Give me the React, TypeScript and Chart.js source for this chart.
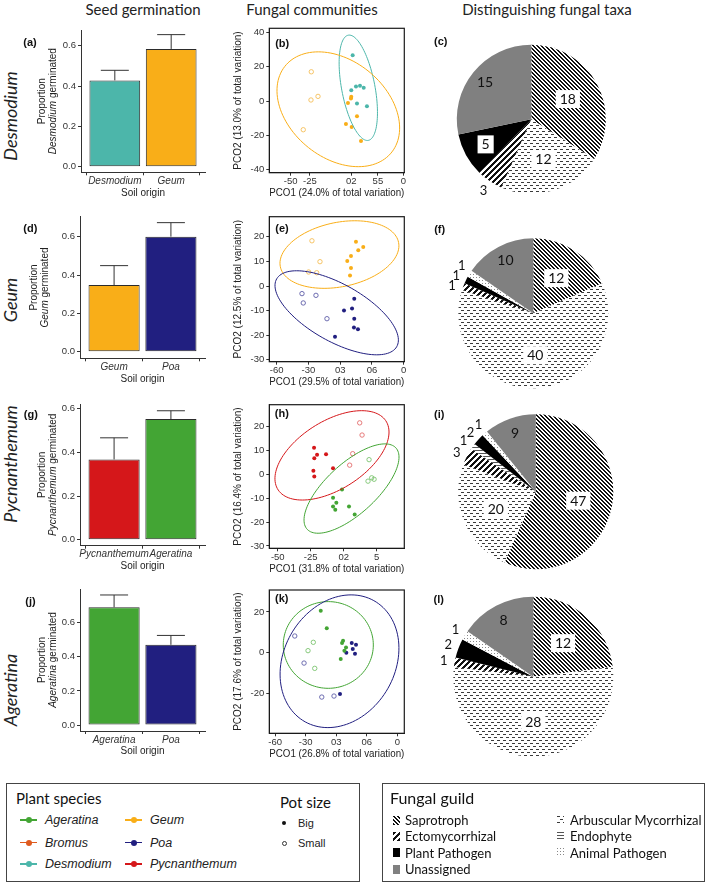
import React, { useEffect, useRef } from 'react';
import { Chart, registerables } from 'chart.js';

Chart.register(...registerables);

const ARIAL = '"Liberation Sans", Arial, Helvetica, sans-serif';
const CALIBRI = 'Lato, "Open Sans", sans-serif';

// ---------------- colours ----------------
const COL: Record<string, string> = {
  Ageratina: '#43A534',
  Bromus: '#DF5A1E',
  Desmodium: '#4CB6AA',
  Geum: '#F9AE18',
  Poa: '#211F80',
  Pycnanthemum: '#D5171A',
};
const COL_OPEN: Record<string, string> = {
  Ageratina: '#7CC46F',
  Desmodium: '#7ACCC2',
  Geum: '#F5BE58',
  Poa: '#5F5DA8',
  Pycnanthemum: '#E36D6D',
};

// ---------------- seed germination (proportion germinated, mean and SE) ----------------
const soilOriginA = ['Desmodium', 'Geum'];
const germinatedA = [0.428, 0.584];
const seA = [0.05, 0.071];

const soilOriginD = ['Geum', 'Poa'];
const germinatedD = [0.348, 0.6];
const seD = [0.101, 0.073];

const soilOriginG = ['Pycnanthemum', 'Ageratina'];
const germinatedG = [0.368, 0.553];
const seG = [0.099, 0.038];

const soilOriginJ = ['Ageratina', 'Poa'];
const germinatedJ = [0.69, 0.47];
const seJ = [0.072, 0.055];

const proportionTicks = [0, 0.2, 0.4, 0.6];

// ---------------- fungal communities (PCO scores) ----------------
type XY = [number, number];
const bDesmodiumBig: XY[] = [[30.3, 26.6], [28.5, 6.2], [34.6, 8.5], [39.8, 8.9], [44.6, 7.7], [35.9, -1.4], [48.8, -3.1]];
const bGeumBig: XY[] = [[24.2, -1.2], [28.5, 2.5], [28.1, 1.4], [35.9, -8.9], [21.6, -13.4], [29, -15.1], [41.1, -23.3]];
const bGeumSmall: XY[] = [[-23.3, 17], [-23.7, 0.6], [-14.6, 2.7], [-33.7, -16.7]];
const bEllipseDesmodium = [37.6, 7.7, -12.95, 30.6, -21.2, -1.8];
const bEllipseGeum = [11.7, -4.8, 25.9, -33.4, 75.1, 0];
const bPco1Ticks = [-50, -25, 28.5, 63, 96];
const bPco1Labels = ['-50', '-25', '02', '55', '0'];
const bPco2Ticks = [-40, -20, 0, 20, 40];

const eGeumBig: XY[] = [[14.9, 18], [21.8, 15.9], [17.1, 14.5], [10.2, 12.2], [6.7, 10.2], [10.2, 7.3], [9.3, 4.3]];
const eGeumSmall: XY[] = [[-26.7, 18.4], [-19.1, 9.9], [-29.8, 5.7], [-22.2, 5.4]];
const ePoaBig: XY[] = [[13.3, -5.2], [3.6, -10], [11.2, -9.2], [13.3, -13.3], [13, -16.9], [16.8, -17.6], [-4.9, -20.6]];
const ePoaSmall: XY[] = [[-36.1, -3.1], [-34.9, -6.9], [-22.9, -3.8], [-12.5, -13.3]];
const eEllipseGeum = [-0.7, 12.8, 14.5, 13.75, 54.3, 0];
const eEllipsePoa = [-3.3, -10.9, -37.8, 17.1, 44.4, 0];
const ePco1Ticks = [-60, -30, 0, 30, 60];
const ePco1Labels = ['-60', '-30', '03', '06', '0'];
const ePco2Ticks = [-30, -20, -10, 0, 10, 20];

const hPycBig: XY[] = [[-22.5, 11.1], [-20.2, 8.2], [-22.3, 6.7], [-13.4, 8.4], [-23, 1.5], [-22.3, -1], [-8.1, 2.5]];
const hPycSmall: XY[] = [[12.1, 21.5], [13.9, 16.4], [6.8, 8.6], [4.5, 3.8]];
const hAgeBig: XY[] = [[-1.3, -6.4], [-8.1, -9.8], [-5.6, -11.9], [-8.1, -13.5], [-6.4, -14.9], [4, -13.5], [8.3, -16.9]];
const hAgeSmall: XY[] = [[19.2, 6.1], [18.4, -2.9], [21.2, -1.5], [23, -2.1]];
const hEllipsePyc = [-8.9, 7.9, 22.5, 18.7, 36.9, 0];
const hEllipseAge = [5.9, -6.0, 25.3, 18.7, 25.6, 0];
const hPco1Ticks = [-50, -25, 0, 25];
const hPco1Labels = ['-50', '-25', '02', '5'];
const hPco2Ticks = [-30, -20, -10, 0, 10, 20];

const kAgeBig: XY[] = [[-15.2, 20.6], [-9.3, 12], [6.7, 5.9], [5.7, 4.8], [9.6, 2.5], [8, 1], [4.4, -3.1]];
const kAgeSmall: XY[] = [[-22.5, 5.1], [-27.7, 1], [-21.1, -7.7]];
const kPoaBig: XY[] = [[15.2, 4.8], [19.4, 3.9], [16.2, 1.8], [9.9, 0], [18.4, -0.5], [3.7, -20.3]];
const kPoaSmall: XY[] = [[-40.7, 8.2], [-31.6, -5.1], [-14.2, -21.8], [-2.2, -21.3]];
const kEllipseAge = [-7.8, 3.8, 0, 21.3, 44.2, 0];
const kEllipsePoa = [3.2, -4.2, 11.4, 32.6, 57.2, 0];
const kPco1Ticks = [-60, -30, 0, 30, 60];
const kPco1Labels = ['-60', '-30', '03', '06', '0'];
const kPco2Ticks = [-20, 0, 20];

// ---------------- distinguishing fungal taxa (counts per guild) ----------------
const guilds = ['Saprotroph', 'Arbuscular Mycorrhizal', 'Ectomycorrhizal', 'Endophyte', 'Plant Pathogen', 'Animal Pathogen', 'Unassigned'];
const taxaC = [18, 12, 3, 0, 5, 0, 15];
const taxaF = [12, 40, 1, 0, 1, 1, 10];
const taxaI = [47, 20, 3, 1, 2, 1, 9];
const taxaL = [12, 28, 1, 0, 2, 1, 8];

// legends
const legendSpecies = ['Ageratina', 'Bromus', 'Desmodium', 'Geum', 'Poa', 'Pycnanthemum'];
const legendGuildsCol1 = ['Saprotroph', 'Ectomycorrhizal', 'Plant Pathogen', 'Unassigned'];
const legendGuildsCol2 = ['Arbuscular Mycorrhizal', 'Endophyte', 'Animal Pathogen'];

// ---------------- helpers ----------------
function makeTile(w: number, h: number, on: (x: number, y: number) => boolean, fg: string, bg: string): any {
  const c = document.createElement('canvas');
  c.width = w;
  c.height = h;
  const ctx = c.getContext('2d')!;
  ctx.fillStyle = bg;
  ctx.fillRect(0, 0, w, h);
  ctx.fillStyle = fg;
  for (let y = 0; y < h; y++) for (let x = 0; x < w; x++) if (on(x, y)) ctx.fillRect(x, y, 1, 1);
  return ctx.createPattern(c, 'repeat');
}

function guildFill(g: string): any {
  switch (g) {
    case 'Saprotroph':
      return makeTile(4, 4, (x, y) => (x - y + 8) % 4 < 2, '#111', '#fff');
    case 'Ectomycorrhizal':
      return makeTile(6, 6, (x, y) => (x + y) % 6 < 3, '#111', '#fff');
    case 'Arbuscular Mycorrhizal':
      return makeTile(6, 6, (x, y) => (y === 0 && x < 3) || (y === 3 && x >= 3), '#3a3a3a', '#fff');
    case 'Endophyte':
      return makeTile(3, 3, (x, y) => y === 0, '#555', '#fff');
    case 'Plant Pathogen':
      return '#000';
    case 'Animal Pathogen':
      return makeTile(3, 3, (x, y) => x === 0 && y === 0, '#888', '#fff');
    default:
      return '#808080';
  }
}

function ChartCanvas(props: { left: number; top: number; width: number; height: number; make: () => any }) {
  const ref = useRef<HTMLCanvasElement | null>(null);
  useEffect(() => {
    if (!ref.current) return;
    const ch = new Chart(ref.current, props.make());
    return () => ch.destroy();
  }, []);
  return (
    <canvas
      ref={ref}
      width={props.width}
      height={props.height}
      style={{ position: 'absolute', left: props.left, top: props.top, width: props.width, height: props.height }}
    />
  );
}

function T(props: { x: number; y: number; children: any; style?: any; anchor?: string; rotate?: boolean }) {
  const tx = props.anchor === 'left' ? '0' : '-50%';
  const rot = props.rotate ? ' rotate(-90deg)' : '';
  return (
    <div
      style={{
        position: 'absolute',
        left: props.x,
        top: props.y,
        transform: `translate(${tx}, -50%)${rot}`,
        whiteSpace: 'nowrap',
        lineHeight: 1,
        ...props.style,
      }}
    >
      {props.children}
    </div>
  );
}

const tickFont = { family: ARIAL, size: 9.5 };
const titleFont = { family: ARIAL, size: 10 };

// ---------------- bar panels ----------------
interface BarLayout { l: number; r: number; t: number; b: number; yMin: number; yMax: number; titleX: number[] }

function drawRotatedSegments(ctx: any, cx: number, cy: number, segs: { t: string; italic: boolean }[]) {
  ctx.save();
  ctx.translate(cx, cy);
  ctx.rotate(-Math.PI / 2);
  ctx.textBaseline = 'middle';
  ctx.textAlign = 'left';
  ctx.fillStyle = '#222';
  let total = 0;
  const widths = segs.map((s) => {
    ctx.font = `${s.italic ? 'italic ' : ''}10px ${ARIAL}`;
    const w = ctx.measureText(s.t).width;
    total += w;
    return w;
  });
  let x = -total / 2;
  segs.forEach((s, i) => {
    ctx.font = `${s.italic ? 'italic ' : ''}10px ${ARIAL}`;
    ctx.fillText(s.t, x, 0);
    x += widths[i];
  });
  ctx.restore();
}

function BarPanel(props: { cats: string[]; vals: number[]; se: number[]; plant: string; L: BarLayout }) {
  const { cats, vals, se, plant, L } = props;
  const CL = 26;
  const CT = Math.floor(L.t - 8);
  const CW = Math.ceil(L.r + 10 - CL);
  const CH = Math.ceil(L.b + 26 - CT);
  const make = () => ({
    type: 'bar',
    data: {
      datasets: [
        {
          data: vals.map((v, i) => ({ x: i + 1, y: v })),
          backgroundColor: cats.map((c) => COL[c]),
          borderColor: '#2b2b2b',
          borderWidth: 1,
          borderSkipped: false,
          barPercentage: 0.9,
          categoryPercentage: 1,
        },
      ],
    },
    options: {
      responsive: false,
      animation: false,
      layout: { padding: { top: L.t - CT, right: CL + CW - L.r, left: 0, bottom: 0 } },
      plugins: { legend: { display: false }, tooltip: { enabled: false } },
      scales: {
        x: {
          type: 'linear',
          min: 0.4,
          max: 2.6,
          offset: false,
          afterFit: (s: any) => { s.height = CT + CH - L.b; },
          afterBuildTicks: (s: any) => { s.ticks = cats.map((_, i) => ({ value: i + 1 })); },
          ticks: {
            autoSkip: false, maxRotation: 0, minRotation: 0, padding: 0, color: '#333',
            font: { family: ARIAL, size: 10, style: 'italic' },
            callback: (_v: any, i: number) => cats[i],
          },
          grid: { drawOnChartArea: false, drawTicks: true, tickLength: 3, color: '#333' },
          border: { display: true, color: '#333', width: 1 },
          title: { display: true, text: 'Soil origin', color: '#222', font: titleFont, padding: { top: 0, bottom: 0 } },
        },
        y: {
          min: L.yMin,
          max: L.yMax,
          afterFit: (s: any) => { s.width = L.l - CL; },
          afterBuildTicks: (s: any) => { s.ticks = proportionTicks.map((v) => ({ value: v })); },
          ticks: { padding: 2, color: '#333', font: tickFont, callback: (v: any) => Number(v).toFixed(1) },
          grid: { drawOnChartArea: false, drawTicks: true, tickLength: 3, color: '#333' },
          border: { display: true, color: '#333', width: 1 },
        },
      },
    },
    plugins: [
      {
        id: 'errorBars',
        afterDatasetsDraw(chart: any) {
          const ctx = chart.ctx;
          const y = chart.scales.y;
          const meta = chart.getDatasetMeta(0);
          ctx.save();
          ctx.strokeStyle = '#333';
          ctx.lineWidth = 1;
          meta.data.forEach((bar: any, i: number) => {
            const y0 = y.getPixelForValue(vals[i]);
            const y1 = y.getPixelForValue(vals[i] + se[i]);
            ctx.beginPath();
            ctx.moveTo(bar.x, y0);
            ctx.lineTo(bar.x, y1);
            ctx.moveTo(bar.x - 14, y1);
            ctx.lineTo(bar.x + 14, y1);
            ctx.stroke();
          });
          ctx.restore();
        },
      },
      {
        id: 'yTitle',
        afterDraw(chart: any) {
          const a = chart.chartArea;
          const yc = (a.top + a.bottom) / 2;
          drawRotatedSegments(chart.ctx, L.titleX[0] - CL, yc, [{ t: 'Proportion', italic: false }]);
          drawRotatedSegments(chart.ctx, L.titleX[1] - CL, yc, [
            { t: plant, italic: true },
            { t: ' germinated', italic: false },
          ]);
        },
      },
    ],
  });
  return <ChartCanvas left={CL} top={CT} width={CW} height={CH} make={make} />;
}

// ---------------- scatter panels ----------------
interface Group { pts: XY[]; species: string; open: boolean }
interface ScatterSpec {
  groups: Group[];
  ellipses: { e: number[]; species: string }[];
  xMin: number; xMax: number; xTicks: number[]; xLabels: string[];
  yMin: number; yMax: number; yTicks: number[];
  xTitle: string; yTitle: string;
  l: number; r: number; t: number; b: number;
}

function ScatterPanel(props: { s: ScatterSpec }) {
  const s = props.s;
  const CL = 226;
  const CT = Math.floor(s.t - 8);
  const CW = Math.ceil(s.r + 8 - CL);
  const CH = Math.ceil(s.b + 26 - CT);
  const make = () => ({
    type: 'scatter',
    data: {
      datasets: s.groups.map((g) => ({
        data: g.pts.map(([x, y]) => ({ x, y })),
        pointRadius: g.open ? 2.2 : 2,
        pointBackgroundColor: g.open ? 'rgba(255,255,255,0)' : COL[g.species],
        pointBorderColor: g.open ? COL_OPEN[g.species] : COL[g.species],
        pointBorderWidth: g.open ? 0.9 : 0,
        showLine: false,
      })),
    },
    options: {
      responsive: false,
      animation: false,
      layout: { padding: { top: s.t - CT, right: CL + CW - s.r, left: 0, bottom: 0 } },
      plugins: { legend: { display: false }, tooltip: { enabled: false } },
      scales: {
        x: {
          type: 'linear',
          min: s.xMin,
          max: s.xMax,
          afterFit: (sc: any) => { sc.height = CT + CH - s.b; },
          afterBuildTicks: (sc: any) => { sc.ticks = s.xTicks.map((v) => ({ value: v })); },
          ticks: {
            autoSkip: false, maxRotation: 0, minRotation: 0, padding: 0, color: '#333', font: tickFont,
            callback: (_v: any, i: number) => s.xLabels[i],
          },
          grid: { drawOnChartArea: false, drawTicks: true, tickLength: 3, color: '#333' },
          border: { display: true, color: '#1a1a1a', width: 1 },
          title: { display: true, text: s.xTitle, color: '#222', font: titleFont, padding: { top: 0, bottom: 0 } },
        },
        y: {
          type: 'linear',
          min: s.yMin,
          max: s.yMax,
          afterFit: (sc: any) => { sc.width = s.l - CL; },
          afterBuildTicks: (sc: any) => { sc.ticks = s.yTicks.map((v) => ({ value: v })); },
          ticks: { padding: 2, color: '#333', font: tickFont, callback: (v: any) => String(v) },
          grid: { drawOnChartArea: false, drawTicks: true, tickLength: 3, color: '#333' },
          border: { display: true, color: '#1a1a1a', width: 1 },
          title: { display: true, text: s.yTitle, color: '#222', font: titleFont, padding: { top: 6, bottom: 0 } },
        },
      },
    },
    plugins: [
      {
        id: 'ellipses',
        afterDatasetsDraw(chart: any) {
          const { ctx, chartArea: a } = chart;
          const x = chart.scales.x;
          const y = chart.scales.y;
          ctx.save();
          ctx.beginPath();
          ctx.rect(a.left, a.top, a.right - a.left, a.bottom - a.top);
          ctx.clip();
          ctx.lineWidth = 1;
          for (const el of s.ellipses) {
            const [cx, cy, ux, uy, vx, vy] = el.e;
            ctx.strokeStyle = COL[el.species];
            ctx.beginPath();
            for (let k = 0; k <= 120; k++) {
              const t = (k / 120) * Math.PI * 2;
              const px = x.getPixelForValue(cx + ux * Math.cos(t) + vx * Math.sin(t));
              const py = y.getPixelForValue(cy + uy * Math.cos(t) + vy * Math.sin(t));
              if (k === 0) ctx.moveTo(px, py);
              else ctx.lineTo(px, py);
            }
            ctx.closePath();
            ctx.stroke();
          }
          ctx.restore();
        },
      },
      {
        id: 'box',
        afterDraw(chart: any) {
          const { ctx, chartArea: a } = chart;
          ctx.save();
          ctx.strokeStyle = '#1a1a1a';
          ctx.lineWidth = 1.2;
          ctx.strokeRect(a.left, a.top, a.right - a.left, a.bottom - a.top);
          ctx.restore();
        },
      },
    ],
  });
  return <ChartCanvas left={CL} top={CT} width={CW} height={CH} make={make} />;
}

// ---------------- pie panels ----------------
function PiePanel(props: { vals: number[]; cx: number; cy: number; r: number }) {
  const { vals, cx, cy, r } = props;
  const CL = 425;
  const CW = 280;
  const CT = Math.floor(cy - r - 30);
  const CH = Math.ceil(2 * r + 60);
  const make = () => ({
    type: 'pie',
    data: {
      labels: guilds,
      datasets: [{ data: vals, backgroundColor: guilds.map((g) => guildFill(g)), borderWidth: 0 }],
    },
    options: {
      responsive: false,
      animation: false,
      layout: {
        padding: {
          left: cx - r - CL,
          right: CL + CW - (cx + r),
          top: cy - r - CT,
          bottom: CT + CH - (cy + r),
        },
      },
      plugins: { legend: { display: false }, tooltip: { enabled: false } },
    },
    plugins: [
      {
        id: 'pieLabels',
        afterDraw(chart: any) {
          const ctx = chart.ctx;
          const meta = chart.getDatasetMeta(0);
          const total = vals.reduce((a, b) => a + b, 0);
          const items: any[] = [];
          meta.data.forEach((arc: any, i: number) => {
            const v = vals[i];
            if (!v) return;
            const p = arc.getProps(['x', 'y', 'startAngle', 'endAngle', 'outerRadius'], true);
            const mid = (p.startAngle + p.endAngle) / 2;
            const share = v / total;
            const g = guilds[i];
            let rr: number;
            let boxed = false;
            let size = 14;
            let out = false;
            if (share < 0.07) { rr = p.outerRadius + 11; size = 13; out = true; }
            else if (g === 'Unassigned') rr = p.outerRadius * 0.8;
            else if (g === 'Plant Pathogen') { rr = p.outerRadius * 0.7; boxed = true; }
            else { rr = p.outerRadius * 0.56; boxed = true; }
            items.push({ v, x: p.x, y: p.y, ang: mid, rr, boxed, size, out });
          });
          // spread clustered outside labels so they do not overlap
          const outs = items.filter((it) => it.out);
          if (outs.length > 1) {
            const before = outs.reduce((s, it) => s + it.ang, 0) / outs.length;
            for (let k = 1; k < outs.length; k++) {
              const minA = 11 / outs[k].rr;
              if (outs[k].ang - outs[k - 1].ang < minA) outs[k].ang = outs[k - 1].ang + minA;
            }
            const after = outs.reduce((s, it) => s + it.ang, 0) / outs.length;
            const contiguous = outs[outs.length - 1].ang - outs[0].ang < 1;
            if (contiguous) outs.forEach((it) => { it.ang -= after - before; });
          }
          ctx.save();
          for (const it of items) {
            const tx = it.x + Math.cos(it.ang) * it.rr;
            const ty = it.y + Math.sin(it.ang) * it.rr;
            ctx.font = `${it.size}px ${CALIBRI}`;
            const w = ctx.measureText(String(it.v)).width;
            if (it.boxed) {
              ctx.fillStyle = '#fff';
              ctx.fillRect(tx - w / 2 - 4, ty - 9, w + 8, 18);
            }
            ctx.fillStyle = '#111';
            ctx.textAlign = 'center';
            ctx.textBaseline = 'middle';
            ctx.fillText(String(it.v), tx, ty + 0.5);
          }
          ctx.restore();
        },
      },
    ],
  });
  return <ChartCanvas left={CL} top={CT} width={CW} height={CH} make={make} />;
}

function GuildIcon(props: { x: number; y: number; guild: string }) {
  const ref = useRef<HTMLCanvasElement | null>(null);
  useEffect(() => {
    const c = ref.current;
    if (!c) return;
    const ctx = c.getContext('2d')!;
    ctx.clearRect(0, 0, c.width, c.height);
    ctx.fillStyle = guildFill(props.guild);
    ctx.fillRect(0, 0, c.width, c.height);
  }, []);
  return <canvas ref={ref} width={7} height={9} style={{ position: 'absolute', left: props.x, top: props.y - 4.5, width: 7, height: 9 }} />;
}

function SpeciesKey(props: { x: number; y: number; name: string }) {
  const { x, y, name } = props;
  return (
    <>
      <div style={{ position: 'absolute', left: x, top: y - 0.75, width: 17, height: 1.5, background: COL[name] }} />
      <div style={{ position: 'absolute', left: x + 5.5, top: y - 3, width: 6, height: 6, borderRadius: 3, background: COL[name] }} />
      <T x={x + 25} y={y} anchor="left" style={{ fontStyle: 'italic', fontSize: 12.5, color: '#222', fontFamily: ARIAL }}>
        {name}
      </T>
    </>
  );
}

// ---------------- layout ----------------
const barA: BarLayout = { l: 81, r: 205, t: 30, b: 172.3, yMin: -0.028, yMax: 0.678, titleX: [42, 53] };
const barD: BarLayout = { l: 80, r: 205, t: 216.7, b: 358.3, yMin: -0.034, yMax: 0.704, titleX: [34, 45] };
const barG: BarLayout = { l: 80, r: 205, t: 404, b: 545.7, yMin: -0.0275, yMax: 0.622, titleX: [42, 53] };
const barJ: BarLayout = { l: 80, r: 205, t: 589, b: 731, yMin: -0.035, yMax: 0.797, titleX: [42, 53] };

const scatB: ScatterSpec = {
  groups: [
    { pts: bDesmodiumBig, species: 'Desmodium', open: false },
    { pts: bGeumBig, species: 'Geum', open: false },
    { pts: bGeumSmall, species: 'Geum', open: true },
  ],
  ellipses: [{ e: bEllipseDesmodium, species: 'Desmodium' }, { e: bEllipseGeum, species: 'Geum' }],
  xMin: -77.7, xMax: 97.2, xTicks: bPco1Ticks, xLabels: bPco1Labels,
  yMin: -41.7, yMax: 42.3, yTicks: bPco2Ticks,
  xTitle: 'PCO1 (24.0% of total variation)', yTitle: 'PCO2 (13.0% of total variation)',
  l: 269.3, r: 404.3, t: 28.3, b: 172.7,
};
const scatE: ScatterSpec = {
  groups: [
    { pts: eGeumBig, species: 'Geum', open: false },
    { pts: eGeumSmall, species: 'Geum', open: true },
    { pts: ePoaBig, species: 'Poa', open: false },
    { pts: ePoaSmall, species: 'Poa', open: true },
  ],
  ellipses: [{ e: eEllipseGeum, species: 'Geum' }, { e: eEllipsePoa, species: 'Poa' }],
  xMin: -67, xMax: 60.6, xTicks: ePco1Ticks, xLabels: ePco1Labels,
  yMin: -30.8, yMax: 28.2, yTicks: ePco2Ticks,
  xTitle: 'PCO1 (29.5% of total variation)', yTitle: 'PCO2 (12.5% of total variation)',
  l: 269.3, r: 404.3, t: 216.7, b: 361.7,
};
const scatH: ScatterSpec = {
  groups: [
    { pts: hPycBig, species: 'Pycnanthemum', open: false },
    { pts: hPycSmall, species: 'Pycnanthemum', open: true },
    { pts: hAgeBig, species: 'Ageratina', open: false },
    { pts: hAgeSmall, species: 'Ageratina', open: true },
  ],
  ellipses: [{ e: hEllipsePyc, species: 'Pycnanthemum' }, { e: hEllipseAge, species: 'Ageratina' }],
  xMin: -56.4, xMax: 45.9, xTicks: hPco1Ticks, xLabels: hPco1Labels,
  yMin: -31, yMax: 29.1, yTicks: hPco2Ticks,
  xTitle: 'PCO1 (31.8% of total variation)', yTitle: 'PCO2 (16.4% of total variation)',
  l: 269.3, r: 404.3, t: 404.7, b: 548.3,
};
const scatK: ScatterSpec = {
  groups: [
    { pts: kAgeBig, species: 'Ageratina', open: false },
    { pts: kAgeSmall, species: 'Ageratina', open: true },
    { pts: kPoaBig, species: 'Poa', open: false },
    { pts: kPoaSmall, species: 'Poa', open: true },
  ],
  ellipses: [{ e: kEllipseAge, species: 'Ageratina' }, { e: kEllipsePoa, species: 'Poa' }],
  xMin: -65.7, xMax: 66.8, xTicks: kPco1Ticks, xLabels: kPco1Labels,
  yMin: -39.6, yMax: 30.8, yTicks: kPco2Ticks,
  xTitle: 'PCO1 (26.8% of total variation)', yTitle: 'PCO2 (17.6% of total variation)',
  l: 269.3, r: 404.3, t: 590, b: 733.3,
};

const headStyle = { fontFamily: CALIBRI, fontSize: 15, color: '#222' };
const rowStyle = { fontFamily: CALIBRI, fontSize: 18, fontStyle: 'italic', color: '#222' };
const tagStyle = { fontFamily: ARIAL, fontSize: 11, fontWeight: 'bold', color: '#111' };

export default function App() {
  return (
    <div style={{ position: 'absolute', left: 0, top: 0, width: 709, height: 885, background: '#fff', overflow: 'hidden', fontFamily: ARIAL }}>
      <T x={143} y={9} style={headStyle}>Seed germination</T>
      <T x={312} y={9} style={headStyle}>Fungal communities</T>
      <T x={547} y={9} style={headStyle}>Distinguishing fungal taxa</T>

      <T x={10} y={116} rotate style={rowStyle}>Desmodium</T>
      <T x={10} y={300} rotate style={rowStyle}>Geum</T>
      <T x={10} y={464} rotate style={rowStyle}>Pycnanthemum</T>
      <T x={10} y={690} rotate style={rowStyle}>Ageratina</T>

      <BarPanel cats={soilOriginA} vals={germinatedA} se={seA} plant="Desmodium" L={barA} />
      <BarPanel cats={soilOriginD} vals={germinatedD} se={seD} plant="Geum" L={barD} />
      <BarPanel cats={soilOriginG} vals={germinatedG} se={seG} plant="Pycnanthemum" L={barG} />
      <BarPanel cats={soilOriginJ} vals={germinatedJ} se={seJ} plant="Ageratina" L={barJ} />

      <ScatterPanel s={scatB} />
      <ScatterPanel s={scatE} />
      <ScatterPanel s={scatH} />
      <ScatterPanel s={scatK} />

      <PiePanel vals={taxaC} cx={531.3} cy={119.2} r={74.5} />
      <PiePanel vals={taxaF} cx={533.3} cy={313.3} r={75} />
      <PiePanel vals={taxaI} cx={535.8} cy={491.7} r={77.5} />
      <PiePanel vals={taxaL} cx={533.3} cy={676.7} r={80} />

      <T x={30} y={41.7} style={tagStyle}>(a)</T>
      <T x={30.3} y={227.5} style={tagStyle}>(d)</T>
      <T x={30.8} y={414} style={tagStyle}>(g)</T>
      <T x={30.5} y={600.5} style={tagStyle}>(j)</T>
      <T x={282.2} y={42.5} style={tagStyle}>(b)</T>
      <T x={282} y={228.3} style={tagStyle}>(e)</T>
      <T x={281.8} y={413.3} style={tagStyle}>(h)</T>
      <T x={281.8} y={597.8} style={tagStyle}>(k)</T>
      <T x={440.8} y={40.8} style={tagStyle}>(c)</T>
      <T x={439.7} y={229} style={tagStyle}>(f)</T>
      <T x={439.3} y={414} style={tagStyle}>(i)</T>
      <T x={438.8} y={599} style={tagStyle}>(l)</T>

      {/* plant species / pot size legend */}
      <div style={{ position: 'absolute', left: 6, top: 783, width: 354, height: 99, border: '1.3px solid #444', boxSizing: 'border-box' }} />
      <T x={16} y={798} anchor="left" style={{ fontFamily: CALIBRI, fontSize: 15, color: '#111' }}>Plant species</T>
      {legendSpecies.map((n, i) => (
        <SpeciesKey key={n} name={n} x={i < 3 ? 20 : 125} y={[820, 842.5, 864][i % 3]} />
      ))}
      <T x={280} y={801.5} anchor="left" style={{ fontFamily: CALIBRI, fontSize: 15, color: '#111' }}>Pot size</T>
      <div style={{ position: 'absolute', left: 282, top: 821, width: 4, height: 4, borderRadius: 2, background: '#111' }} />
      <T x={298} y={823} anchor="left" style={{ fontSize: 11, color: '#222' }}>Big</T>
      <div style={{ position: 'absolute', left: 281.5, top: 840.5, width: 5, height: 5, borderRadius: 3, border: '1px solid #333', boxSizing: 'border-box' }} />
      <T x={298} y={843} anchor="left" style={{ fontSize: 11, color: '#222' }}>Small</T>

      {/* fungal guild legend */}
      <div style={{ position: 'absolute', left: 382, top: 783, width: 323, height: 99, border: '1.3px solid #444', boxSizing: 'border-box' }} />
      <T x={390} y={798} anchor="left" style={{ fontFamily: CALIBRI, fontSize: 16, color: '#111' }}>Fungal guild</T>
      {legendGuildsCol1.map((g, i) => (
        <React.Fragment key={g}>
          <GuildIcon x={393} y={[820, 836, 852.5, 869][i]} guild={g} />
          <T x={405} y={[820, 836, 852.5, 869][i]} anchor="left" style={{ fontFamily: CALIBRI, fontSize: 13, color: '#111' }}>{g}</T>
        </React.Fragment>
      ))}
      {legendGuildsCol2.map((g, i) => (
        <React.Fragment key={g}>
          <GuildIcon x={557} y={[820, 836, 852.5][i]} guild={g} />
          <T x={570} y={[820, 836, 852.5][i]} anchor="left" style={{ fontFamily: CALIBRI, fontSize: 13, color: '#111' }}>{g}</T>
        </React.Fragment>
      ))}
    </div>
  );
}
